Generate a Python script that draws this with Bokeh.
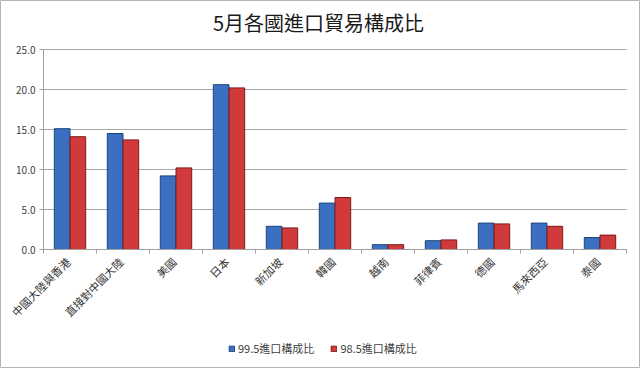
from bokeh.plotting import figure
from bokeh.models import ColumnDataSource, Range1d, Legend, LegendItem, Label
from bokeh.core.properties import value
from bokeh.embed import file_html
from bokeh.resources import INLINE
import math

categories = ["中國大陸與香港", "直接對中國大陸", "美國", "日本", "新加坡", "韓國",
              "越南", "菲律賓", "德國", "馬來西亞", "泰國"]
series_995 = [15.1, 14.5, 9.2, 20.6, 2.9, 5.8, 0.6, 1.1, 3.3, 3.3, 1.5]
series_985 = [14.1, 13.7, 10.2, 20.2, 2.7, 6.5, 0.6, 1.2, 3.2, 2.9, 1.8]
y_ticks = [0, 5, 10, 15, 20, 25]
title_text = "5月各國進口貿易構成比"
name_995 = "99.5進口構成比"
name_985 = "98.5進口構成比"

FONT = "Noto Sans CJK TC"

# ---- layout in pixels (canvas 640 x 368) ----
W, H = 640, 368
LEFT_PX, RIGHT_PX = 43, 14          # plot band horizontally
TOP_PX, BOTTOM_PX = 49, 119         # 25.0 at y=49, 0.0 at y=249
n = len(categories)
cat_px = (W - LEFT_PX - RIGHT_PX) / n
ymax = y_ticks[-1]
px_per_unit = (H - TOP_PX - BOTTOM_PX) / ymax
dx = 1.0 / cat_px                   # one pixel in x data units
dy = 1.0 / px_per_unit              # one pixel in y data units

bw = 0.296
centers = [i + 0.5 for i in range(n)]
src = ColumnDataSource(dict(cat=categories, xc=centers,
                            xa=[c - bw / 2 for c in centers],
                            xb=[c + bw / 2 for c in centers],
                            xl=[c - 0.04 for c in centers],
                            a=series_995, b=series_985))
tick_src = ColumnDataSource(dict(t=y_ticks, lab=[f"{t:.1f}" for t in y_ticks]))
bound_src = ColumnDataSource(dict(bx=list(range(n + 1))))

p = figure(x_range=Range1d(-LEFT_PX * dx, n + RIGHT_PX * dx),
           y_range=Range1d(-BOTTOM_PX * dy, ymax + TOP_PX * dy),
           width=W, height=H,
           min_border_left=0, min_border_right=0,
           min_border_top=0, min_border_bottom=0,
           x_axis_location=None, y_axis_location=None,
           output_backend="svg", toolbar_location=None)
p.title = None
p.outline_line_color = "#b4b4b4"
p.xgrid.grid_line_color = None
p.ygrid.grid_line_color = None

# horizontal gridlines across the category band
p.segment(x0=0, x1=n, y0="t", y1="t", source=tick_src,
          line_color="#a8a8a8", line_width=1)

# bars
r1 = p.vbar(x="xa", top="a", width=bw, source=src,
            fill_color="#3b6fc2", line_color="#1d4479", line_width=1)
r2 = p.vbar(x="xb", top="b", width=bw, source=src,
            fill_color="#d13a3a", line_color="#7a1c1c", line_width=1)

# value axis: line, ticks, labels
p.segment(x0=0, x1=0, y0=y_ticks[0], y1=ymax, line_color="#a0a0a0", line_width=1)
p.segment(x0=-4 * dx, x1=0, y0="t", y1="t", source=tick_src,
          line_color="#a0a0a0", line_width=1)
p.text(x=-8 * dx, y="t", text="lab", source=tick_src,
       text_align="right", text_baseline="middle",
       text_font=value(FONT), text_font_size="10px", text_color="#404040")

# category axis: line, boundary ticks, rotated labels
p.segment(x0=0, x1=n, y0=0, y1=0, line_color="#a0a0a0", line_width=1)
p.segment(x0="bx", x1="bx", y0=0, y1=-4 * dy, source=bound_src,
          line_color="#a0a0a0", line_width=1)
p.text(x="xl", y=-10 * dy, text="cat", source=src,
       angle=math.pi / 4, text_align="right", text_baseline="middle",
       text_font=value(FONT), text_font_size="11px", text_color="#333333")

title = Label(x=(318 - LEFT_PX) * dx, y=(H - BOTTOM_PX - 22) * dy, text=title_text,
              text_align="center", text_baseline="middle", text_font=FONT,
              text_font_size="20px", text_color="#1a1a1a")
p.add_layout(title)

legend = Legend(items=[LegendItem(label=name_995, renderers=[r1]),
                       LegendItem(label=name_985, renderers=[r2])],
                location=(228, 12), orientation="horizontal",
                border_line_color=None, background_fill_alpha=0,
                padding=0, margin=0, spacing=16,
                glyph_width=7, glyph_height=7, label_standoff=3,
                label_text_font=FONT, label_text_font_size="11px",
                label_text_color="#404040")
p.add_layout(legend)

open("out.html", "w").write(file_html(p, INLINE))
